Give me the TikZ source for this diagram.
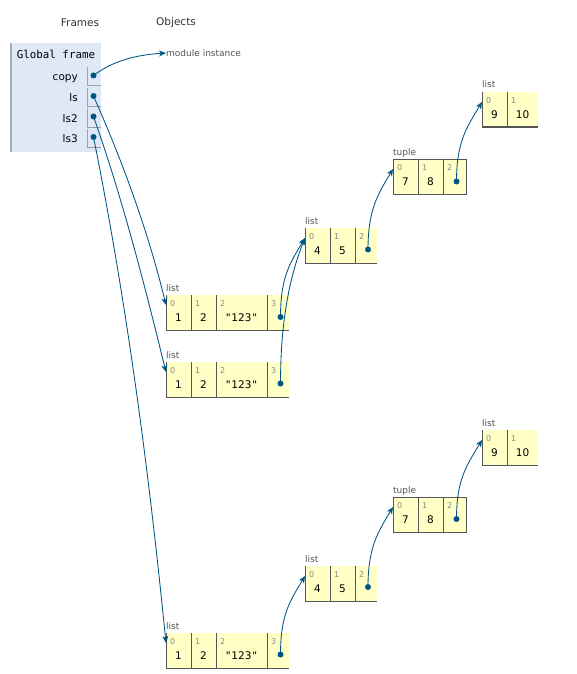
\documentclass[tikz,border=0pt]{standalone}
\usepackage{fontspec}
\setmainfont{DejaVu Sans}
\setmonofont{DejaVu Sans Mono}
\usetikzlibrary{arrows.meta}
\newcommand{\qt}{{\ttfamily"}}
\begin{document}
\begin{tikzpicture}[x=1pt,y=-1pt,
  heading/.style={anchor=center,inner sep=0,text={rgb,255:red,51;green,51;blue,51},font=\fontsize{10.5}{12.6}\selectfont},
  framebox/.style={anchor=north west,inner sep=0,outer sep=0,fill={rgb,255:red,222;green,232;blue,246}},
  varname/.style={anchor=base east,inner sep=0,text=black,font=\fontsize{10.5}{12.6}\selectfont},
  slot/.style={draw={rgb,255:red,160;green,160;blue,160},line width=0.8pt},
  typelabel/.style={anchor=base west,inner sep=0,text={rgb,255:red,85;green,85;blue,85},font=\fontsize{9}{10.8}\selectfont},
  cell/.style={anchor=north west,fill={rgb,255:red,255;green,255;blue,198},minimum height=35pt,inner sep=0,outer sep=0,text height=18pt,text depth=0pt,text=black,font=\fontsize{10.5}{12.6}\selectfont},
  idx/.style={anchor=north west,inner xsep=4pt,inner ysep=5pt,text={rgb,255:red,136;green,136;blue,136},font=\fontsize{8}{9.6}\selectfont},
  edge/.style={draw={rgb,255:red,85;green,85;blue,85},line width=1pt},
  ptr/.style={draw={rgb,255:red,0;green,85;blue,131},line width=0.85pt,-{Stealth[length=7pt,width=6pt,inset=2pt]}},
  ptrdot/.style={fill={rgb,255:red,0;green,85;blue,131}},
]
\useasboundingbox[fill=white] (0,0) rectangle (576,674);
% headings
\node[heading] (frames) at (80,23) {Frames};
\node[heading] (objects) at (176,23) {Objects};
% global frame
\node[framebox,minimum width=90pt,minimum height=109pt] (gf) at (11,43) {};
\draw[draw={rgb,255:red,165;green,172;blue,180},line width=1.5pt] (gf.north west) -- (gf.south west);
\node[anchor=center,inner sep=0,font=\ttfamily\fontsize{10.8}{13}\selectfont] (gftitle) at (56,54) {Global frame};
\node[varname] (copy) at (78,81) {copy};
\node[varname] (ls) at (78,101.5) {ls};
\node[varname] (ls2) at (78,122) {ls2};
\node[varname] (ls3) at (78,142.5) {ls3};
\draw[slot] (87,67) |- (101,85);
\draw[slot] (87,88) |- (101,106);
\draw[slot] (87,108) |- (101,127);
\draw[slot] (87,129) |- (101,147);
\coordinate (copyp) at (93.5,75.5);
\coordinate (lsp) at (93.5,96);
\coordinate (ls2p) at (93.5,116.5);
\coordinate (ls3p) at (93.5,137);
\node[typelabel,anchor=west] (modinst) at (166,53) {module instance};
% list referenced by ls
\node[typelabel] (l1lab) at (166,291) {list};
\node[cell,minimum width=25pt] (l1a) at (166,295) {1};
\node[cell,minimum width=25pt] (l1b) at (191,295) {2};
\node[cell,minimum width=51pt] (l1c) at (216,295) {\qt123\qt};
\node[cell,minimum width=22pt] (l1d) at (267,295) {};
\node[idx] (l1ai) at (l1a.north west) {0};
\node[idx] (l1bi) at (l1b.north west) {1};
\node[idx] (l1ci) at (l1c.north west) {2};
\node[idx] (l1di) at (l1d.north west) {3};
\coordinate (l1p) at (280.5,317);
% list referenced by ls2
\node[typelabel] (l2lab) at (166,358) {list};
\node[cell,minimum width=25pt] (l2a) at (166,362) {1};
\node[cell,minimum width=25pt] (l2b) at (191,362) {2};
\node[cell,minimum width=51pt] (l2c) at (216,362) {\qt123\qt};
\node[cell,minimum width=22pt] (l2d) at (267,362) {};
\node[idx] (l2ai) at (l2a.north west) {0};
\node[idx] (l2bi) at (l2b.north west) {1};
\node[idx] (l2ci) at (l2c.north west) {2};
\node[idx] (l2di) at (l2d.north west) {3};
\coordinate (l2p) at (280.5,383.5);
% list referenced by ls3
\node[typelabel] (l3lab) at (166,629) {list};
\node[cell,minimum width=25pt] (l3a) at (166,633) {1};
\node[cell,minimum width=25pt] (l3b) at (191,633) {2};
\node[cell,minimum width=51pt] (l3c) at (216,633) {\qt123\qt};
\node[cell,minimum width=22pt] (l3d) at (267,633) {};
\node[idx] (l3ai) at (l3a.north west) {0};
\node[idx] (l3bi) at (l3b.north west) {1};
\node[idx] (l3ci) at (l3c.north west) {2};
\node[idx] (l3di) at (l3d.north west) {3};
\coordinate (l3p) at (280.5,654.5);
% inner lists
\node[typelabel] (in1lab) at (305,224) {list};
\node[cell,minimum width=25pt] (in1a) at (305,228) {4};
\node[cell,minimum width=25pt] (in1b) at (330,228) {5};
\node[cell,minimum width=22pt] (in1c) at (355,228) {};
\node[idx] (in1ai) at (in1a.north west) {0};
\node[idx] (in1bi) at (in1b.north west) {1};
\node[idx] (in1ci) at (in1c.north west) {2};
\coordinate (in1p) at (368,249.5);
\node[typelabel] (in3lab) at (305,562) {list};
\node[cell,minimum width=25pt] (in3a) at (305,566) {4};
\node[cell,minimum width=25pt] (in3b) at (330,566) {5};
\node[cell,minimum width=22pt] (in3c) at (355,566) {};
\node[idx] (in3ai) at (in3a.north west) {0};
\node[idx] (in3bi) at (in3b.north west) {1};
\node[idx] (in3ci) at (in3c.north west) {2};
\coordinate (in3p) at (368,587);
% tuples
\node[typelabel] (tp1lab) at (393,155) {tuple};
\node[cell,minimum width=25pt] (tp1a) at (393,159) {7};
\node[cell,minimum width=25pt] (tp1b) at (418,159) {8};
\node[cell,minimum width=23pt] (tp1c) at (443,159) {};
\node[idx] (tp1ai) at (tp1a.north west) {0};
\node[idx] (tp1bi) at (tp1b.north west) {1};
\node[idx] (tp1ci) at (tp1c.north west) {2};
\coordinate (tp1p) at (456.5,181.5);
\node[typelabel] (tp3lab) at (393,493) {tuple};
\node[cell,minimum width=25pt] (tp3a) at (393,497) {7};
\node[cell,minimum width=25pt] (tp3b) at (418,497) {8};
\node[cell,minimum width=23pt] (tp3c) at (443,497) {};
\node[idx] (tp3ai) at (tp3a.north west) {0};
\node[idx] (tp3bi) at (tp3b.north west) {1};
\node[idx] (tp3ci) at (tp3c.north west) {2};
\coordinate (tp3p) at (456.5,519);
% deepest lists
\node[typelabel] (dp1lab) at (482,88) {list};
\node[cell,minimum width=25pt] (dp1a) at (482,92) {9};
\node[cell,minimum width=31pt] (dp1b) at (507,92) {10};
\node[idx] (dp1ai) at (dp1a.north west) {0};
\node[idx] (dp1bi) at (dp1b.north west) {1};
\node[typelabel] (dp3lab) at (482,426) {list};
\node[cell,minimum width=25pt] (dp3a) at (482,430) {9};
\node[cell,minimum width=31pt] (dp3b) at (507,430) {10};
\node[idx] (dp3ai) at (dp3a.north west) {0};
\node[idx] (dp3bi) at (dp3b.north west) {1};
% cell borders
\foreach \c in {l1a,l1b,l1c,l1d,l2a,l2b,l2c,l2d,l3a,l3b,l3c,l3d,in1a,in1b,in1c,in3a,in3b,in3c,dp1a,dp1b,dp3a,dp3b}
  \draw[edge] (\c.north west) |- (\c.south east);
\foreach \c in {tp1a,tp1b,tp1c,tp3a,tp3b,tp3c}
  \draw[edge] (\c.north west) rectangle (\c.south east);
% pointers
\draw[ptr] (copyp) .. controls +(20,-15) and +(-30,2) .. (modinst.west);
\draw[ptr] (lsp) .. controls +(31,70) and +(-17,-70) .. ([yshift=-10pt]l1a.north west);
\draw[ptr] (ls2p) .. controls +(30,85) and +(-21,-85) .. ([yshift=-10pt]l2a.north west);
\draw[ptr] (ls3p) .. controls +(34,170) and +(-17,-170) .. ([yshift=-10pt]l3a.north west);
\draw[ptr] (l1p) .. controls +(0,-40) and +(-15,25) .. ([yshift=-10pt]in1a.north west);
\draw[ptr] (l2p) .. controls +(0,-60) and +(-16,40) .. ([yshift=-10pt]in1a.north west);
\draw[ptr] (in1p) .. controls +(0,-40) and +(-15,25) .. ([yshift=-10pt]tp1a.north west);
\draw[ptr] (tp1p) .. controls +(0,-40) and +(-15,25) .. ([yshift=-10pt]dp1a.north west);
\draw[ptr] (l3p) .. controls +(0,-40) and +(-15,25) .. ([yshift=-10pt]in3a.north west);
\draw[ptr] (in3p) .. controls +(0,-40) and +(-15,25) .. ([yshift=-10pt]tp3a.north west);
\draw[ptr] (tp3p) .. controls +(0,-40) and +(-15,25) .. ([yshift=-10pt]dp3a.north west);
\foreach \p in {copyp,lsp,ls2p,ls3p,l1p,l2p,l3p,in1p,in3p,tp1p,tp3p}
  \fill[ptrdot] (\p) circle (3);
\end{tikzpicture}
\end{document}
